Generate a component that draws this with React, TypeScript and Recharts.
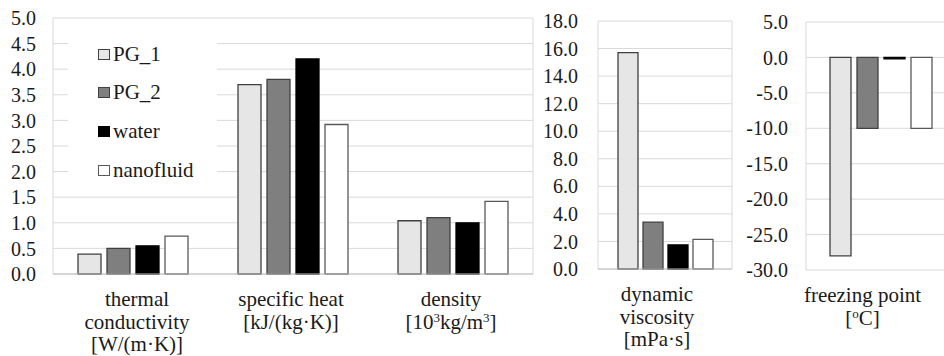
import { BarChart, Bar, XAxis, YAxis, CartesianGrid } from "recharts";

const fluids = ["PG_1", "PG_2", "water", "nanofluid"];
const fills = ["#e6e6e6", "#7f7f7f", "#000000", "#ffffff"];
const strokes = ["#404040", "#404040", "#000000", "#595959"];

// "|" splits lines, "^x" makes x a superscript
const properties = [
  "thermal|conductivity|[W/(m·K)]",
  "specific heat|[kJ/(kg·K)]",
  "density|[10^3kg/m^3]",
  "dynamic|viscosity|[mPa·s]",
  "freezing point|[^oC]",
];
// label nudges (px) so the wrapped captions sit like the original
const labelShift = [4, -2, -2, -8, -18];

const pg1 = [0.39, 3.7, 1.04, 15.7, -28];
const pg2 = [0.5, 3.8, 1.1, 3.4, -10];
const water = [0.55, 4.2, 1.0, 1.75, -0.2];
const nanofluid = [0.74, 2.92, 1.42, 2.15, -10];

const ticks1 = [0, 0.5, 1, 1.5, 2, 2.5, 3, 3.5, 4, 4.5, 5];
const ticks2 = [0, 2, 4, 6, 8, 10, 12, 14, 16, 18];
const ticks3 = [-30, -25, -20, -15, -10, -5, 0, 5];

const rows = properties.map((p, i) => ({
  name: p,
  PG_1: pg1[i],
  PG_2: pg2[i],
  water: water[i],
  nanofluid: nanofluid[i],
}));

const FONT = "Liberation Serif, Tinos, Times New Roman, DejaVu Serif, serif";
const TXT = "#1a1a1a";
const GRID = "#d9d9d9";

function Line({ text }: { text: string }) {
  const parts = text.split(/\^(.)/);
  let raised = false;
  return (
    <>
      {parts.map((p, i) => {
        if (i % 2 === 1) {
          raised = true;
          return (
            <tspan key={i} fontSize={13} dy={-7}>
              {p}
            </tspan>
          );
        }
        const dy = raised ? 7 : 0;
        raised = false;
        return (
          <tspan key={i} dy={dy}>
            {p}
          </tspan>
        );
      })}
    </>
  );
}

const CatTick = (props: any) => {
  const { x, y, payload } = props;
  const shift = labelShift[properties.indexOf(payload.value)] ?? 0;
  const lines: string[] = String(payload.value).split("|");
  return (
    <g>
      {lines.map((l, i) => (
        <text
          key={i}
          x={x + shift}
          y={y + 32 + i * 22.5}
          textAnchor="middle"
          style={{ fontFamily: FONT }}
          fontSize={21}
          fill={TXT}
        >
          <Line text={l} />
        </text>
      ))}
    </g>
  );
};

const frameLines = (p: any) => [p.offset.left, p.offset.left + p.offset.width];

const yTick = { fill: TXT, fontSize: 20, style: { fontFamily: FONT } };

function series(size: number) {
  return fluids.map((f, i) => (
    <Bar
      key={f}
      dataKey={f}
      fill={fills[i]}
      stroke={strokes[i]}
      strokeWidth={1.3}
      barSize={size}
      isAnimationActive={false}
    />
  ));
}

export default function App() {
  return (
    <div
      style={{
        position: "absolute",
        left: 0,
        top: 0,
        width: 944,
        height: 356,
        overflow: "hidden",
        background: "#fff",
        fontFamily: FONT,
      }}
    >
      <div style={{ position: "absolute", left: 0, top: 0 }}>
        <BarChart
          width={540}
          height={356}
          data={rows.slice(0, 3)}
          margin={{ top: 18, right: 7, bottom: 0, left: 0 }}
          barGap={6}
        >
          <CartesianGrid stroke={GRID} verticalCoordinatesGenerator={frameLines} />
          <XAxis
            dataKey="name"
            height={82}
            tickSize={0}
            tickMargin={0}
            axisLine={{ stroke: "#bfbfbf" }}
            tick={<CatTick />}
            interval={0}
          />
          <YAxis
            width={53}
            domain={[0, 5]}
            ticks={ticks1}
            interval={0}
            tickFormatter={(v: number) => v.toFixed(1)}
            axisLine={false}
            tickLine={false}
            tickSize={0}
            tickMargin={17}
            tick={yTick}
          />
          {series(23)}
        </BarChart>
      </div>

      <div
        style={{
          position: "absolute",
          left: 68,
          top: 26,
          width: 149,
          height: 166,
          background: "#fff",
          fontSize: 21,
          color: TXT,
        }}
      >
        {fluids.map((f, i) => (
          <div
            key={f}
            style={{
              position: "absolute",
              left: 30,
              top: 15 + i * 38.7,
              height: 26,
              display: "flex",
              alignItems: "center",
            }}
          >
            <span
              style={{
                display: "inline-block",
                width: 12,
                height: 11,
                boxSizing: "border-box",
                background: fills[i],
                border: `1px solid ${strokes[i]}`,
                marginRight: 3,
              }}
            />
            <span>{f}</span>
          </div>
        ))}
      </div>

      <div style={{ position: "absolute", left: 540, top: 0 }}>
        <BarChart
          width={200}
          height={356}
          data={rows.slice(3, 4)}
          margin={{ top: 21, right: 8, bottom: 0, left: 0 }}
          barGap={5}
        >
          <CartesianGrid stroke={GRID} verticalCoordinatesGenerator={frameLines} />
          <XAxis
            dataKey="name"
            height={87}
            tickSize={0}
            tickMargin={0}
            axisLine={{ stroke: "#bfbfbf" }}
            tick={<CatTick />}
            interval={0}
          />
          <YAxis
            width={58}
            domain={[0, 18]}
            ticks={ticks2}
            interval={0}
            tickFormatter={(v: number) => v.toFixed(1)}
            axisLine={false}
            tickLine={false}
            tickSize={0}
            tickMargin={20}
            tick={yTick}
          />
          {series(20)}
        </BarChart>
      </div>

      <div style={{ position: "absolute", left: 740, top: 0 }}>
        <BarChart
          width={220}
          height={356}
          data={rows.slice(4, 5)}
          margin={{ top: 22, right: 5, bottom: 0, left: 0 }}
          barGap={6}
        >
          <CartesianGrid stroke={GRID} verticalCoordinatesGenerator={frameLines} />
          <XAxis
            dataKey="name"
            height={86}
            tickSize={0}
            tickMargin={0}
            axisLine={false}
            tick={<CatTick />}
            interval={0}
          />
          <YAxis
            width={66}
            domain={[-30, 5]}
            ticks={ticks3}
            interval={0}
            tickFormatter={(v: number) => v.toFixed(1)}
            axisLine={false}
            tickLine={false}
            tickSize={0}
            tickMargin={18}
            tick={yTick}
          />
          {series(21)}
        </BarChart>
      </div>
    </div>
  );
}
